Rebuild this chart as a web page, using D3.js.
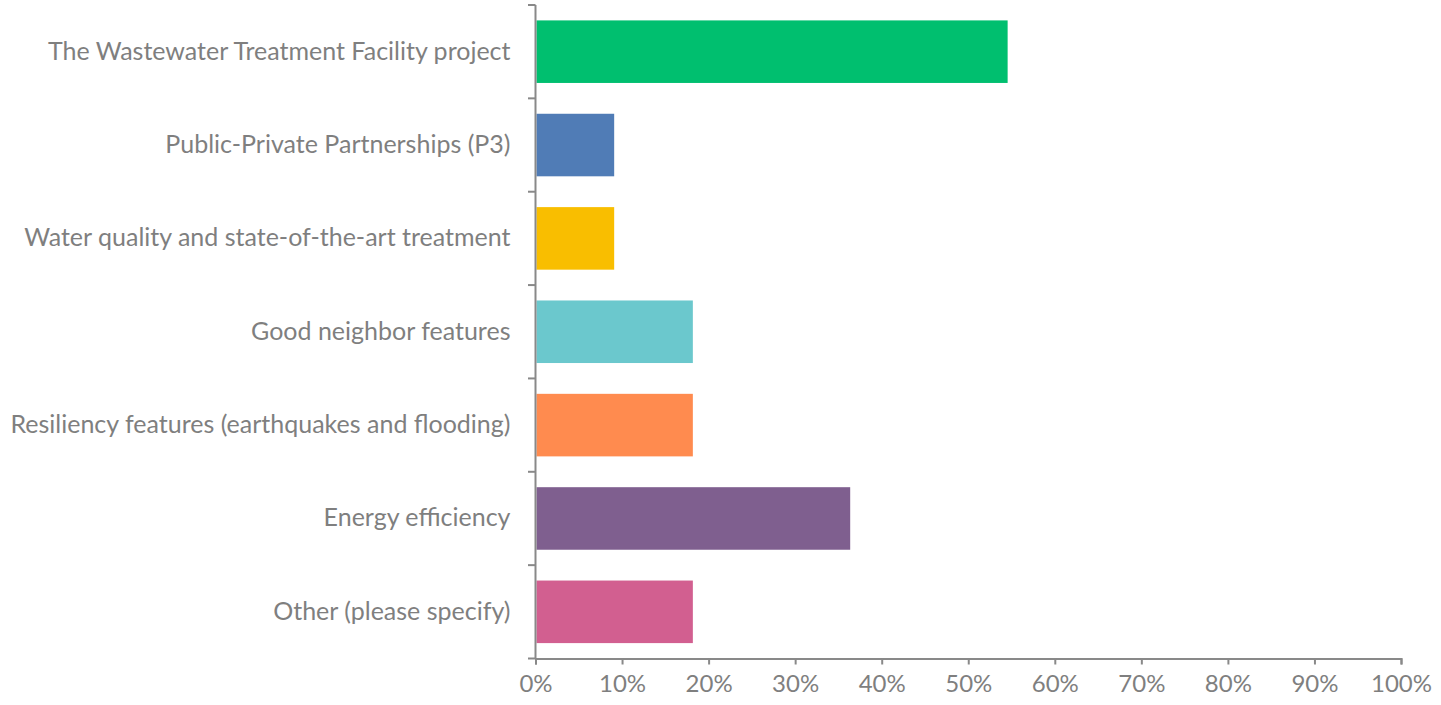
<!DOCTYPE html>
<html><head><meta charset="utf-8">
<script src="https://cdn.jsdelivr.net/npm/d3@7"></script>
<style>body{margin:0;background:#fff}svg{display:block}</style>
</head><body>
<svg id="c" width="1441" height="705"></svg>
<script>
const categories = ["The Wastewater Treatment Facility project","Public-Private Partnerships (P3)","Water quality and state-of-the-art treatment","Good neighbor features","Resiliency features (earthquakes and flooding)","Energy efficiency","Other (please specify)"];
const values = [0.5455,0.0909,0.0909,0.1818,0.1818,0.3636,0.1818];
const colors = ["#00BF6F","#507CB6","#F9BE00","#6BC8CD","#FF8B4F","#7F5F8F","#D25F90"];
const xTicks = [0,0.1,0.2,0.3,0.4,0.5,0.6,0.7,0.8,0.9,1.0];

const svg = d3.select("#c");
const font = "Lato, 'Open Sans', sans-serif";
const textColor = "#7f7f7f";
const axisColor = "#898989";
const x = d3.scaleLinear().domain([0,1]).range([535.5,1401]);
const y = d3.scaleBand().domain(categories).range([5,658.5]).paddingInner(0.33).paddingOuter(0.165);

svg.append("g").selectAll("rect").data(categories).join("rect")
  .attr("x", x(0)+1).attr("y", d=>y(d))
  .attr("width", (d,i)=>x(values[i])-x(0)-1).attr("height", y.bandwidth())
  .attr("fill", (d,i)=>colors[i]);

const xa = svg.append("g").attr("transform","translate(0,658.5)")
  .call(d3.axisBottom(x).tickValues(xTicks).tickFormat(d3.format(".0%")).tickSize(6).tickSizeOuter(6).tickPadding(10));
xa.select(".domain").attr("stroke",axisColor).attr("stroke-width",2);
xa.selectAll(".tick line").attr("stroke",axisColor).attr("stroke-width",2);
xa.selectAll(".tick text").attr("fill",textColor).attr("font-size",24).attr("font-family",font);

const ya = svg.append("g").attr("transform","translate(535.5,0)")
  .call(d3.axisLeft(y).tickSize(0).tickPadding(25));
ya.select(".domain").remove();
ya.selectAll(".tick text").attr("fill",textColor).attr("font-size",25).attr("font-family",font);
// category boundary ticks
const bounds = d3.range(categories.length+1).map(i=> i<categories.length ? y(categories[i]) - y.step()*y.paddingInner()/2 : y(categories[i-1]) + y.bandwidth() + y.step()*y.paddingInner()/2);
svg.append("g").selectAll("line").data(bounds).join("line")
  .attr("x1",528).attr("x2",535.5).attr("y1",d=>d).attr("y2",d=>d)
  .attr("stroke",axisColor).attr("stroke-width",2);
svg.append("line").attr("x1",535.5).attr("x2",535.5).attr("y1",bounds[0]).attr("y2",658.5)
  .attr("stroke",axisColor).attr("stroke-width",2);
</script>
</body></html>
